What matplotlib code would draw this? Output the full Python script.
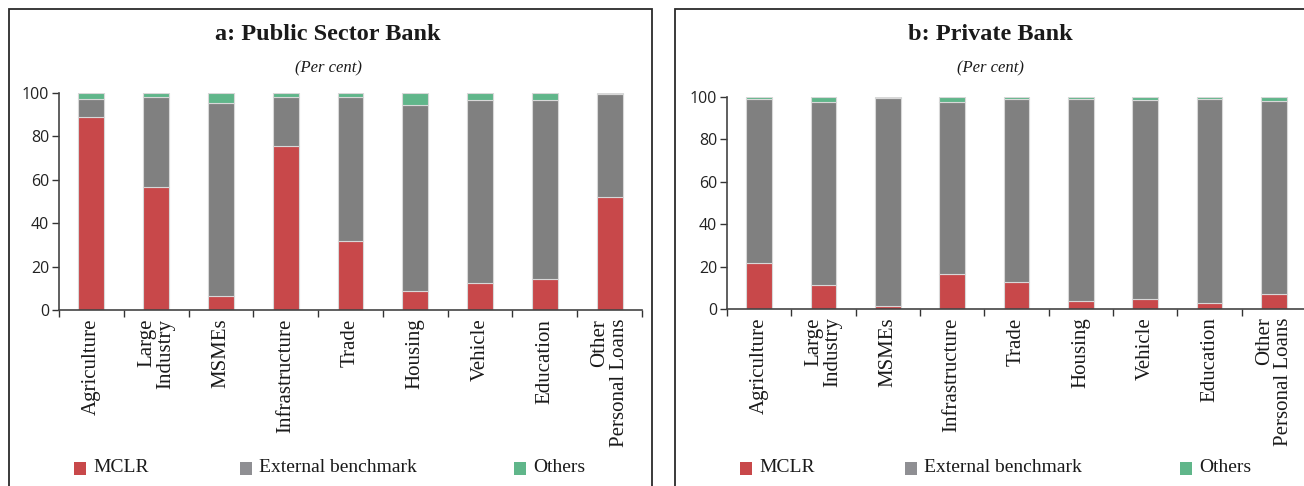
import matplotlib
matplotlib.use("Agg")
import matplotlib.pyplot as plt
from matplotlib.patches import Rectangle

categories = ["Agriculture", "Large\nIndustry", "MSMEs", "Infrastructure", "Trade",
              "Housing", "Vehicle", "Education", "Other\nPersonal Loans"]

# Public sector banks: share of loans by benchmark (per cent)
psb_mclr = [88.8, 56.6, 6.6, 75.5, 31.8, 8.6, 12.3, 14.3, 52.3]
psb_ebl = [8.4, 41.6, 88.6, 22.7, 66.4, 85.9, 84.3, 82.3, 47.1]
psb_others = [2.8, 1.8, 4.8, 1.8, 1.8, 5.5, 3.4, 3.4, 0.6]

# Private banks: share of loans by benchmark (per cent)
pvb_mclr = [21.8, 11.2, 1.4, 16.7, 12.8, 3.6, 4.7, 3.0, 7.3]
pvb_ebl = [77.4, 86.6, 98.0, 80.8, 86.1, 95.6, 94.0, 96.2, 90.6]
pvb_others = [0.8, 2.2, 0.6, 2.5, 1.1, 0.8, 1.3, 0.8, 2.1]

series_names = ["MCLR", "External benchmark", "Others"]
titles = ["a: Public Sector Bank", "b: Private Bank"]
yticks = [0, 20, 40, 60, 80, 100]

RED = "#C8484A"
GREY = "#808080"
GREEN = "#60B68A"
LEG_GREY = "#8F8F93"
EDGE = "#D8D8D8"

SERIF = "Liberation Serif"
SANS = "Open Sans"

W, H = 1304, 486
fig = plt.figure(figsize=(W / 100, H / 100), dpi=100)


def px_axes(x0, x1, y_top, y_bot):
    return [x0 / W, 1 - y_bot / H, (x1 - x0) / W, (y_bot - y_top) / H]


panels = [
    dict(rect=px_axes(59, 642, 93, 310), data=(psb_mclr, psb_ebl, psb_others),
         box=(9, 652), cx=328, legend_x=(74, 240, 514)),
    dict(rect=px_axes(727, 1306, 97, 309), data=(pvb_mclr, pvb_ebl, pvb_others),
         box=(675, 1320), cx=990, legend_x=(740, 905, 1180)),
]

for title, p in zip(titles, panels):
    # panel frame
    bx0, bx1 = p["box"]
    fig.patches.append(Rectangle((bx0 / W, -0.05), (bx1 - bx0) / W, 1 - 9 / H + 0.05,
                                 transform=fig.transFigure, fill=False,
                                 edgecolor="#2b2b2b", linewidth=1.3))
    fig.text(p["cx"] / W, 1 - 35 / H, title, ha="center", va="center",
             fontsize=17.5, fontweight="bold", family=SERIF, color="#1a1a1a")
    fig.text(p["cx"] / W, 1 - 68 / H, "(Per cent)", ha="center", va="center",
             fontsize=12, style="italic", family=SERIF, color="#1a1a1a")

    ax = fig.add_axes(p["rect"])
    mclr, ebl, oth = p["data"]
    x = list(range(len(categories)))
    bottoms2 = [a + b for a, b in zip(mclr, ebl)]
    kw = dict(width=0.4, edgecolor=EDGE, linewidth=0.8)
    ax.bar(x, mclr, color=RED, **kw)
    ax.bar(x, ebl, bottom=mclr, color=GREY, **kw)
    ax.bar(x, oth, bottom=bottoms2, color=GREEN, **kw)

    ax.set_xlim(-0.5, len(categories) - 0.5)
    ax.set_ylim(0, 100)
    ax.set_yticks(yticks)
    ax.set_yticklabels([str(v) for v in yticks], family=SANS, fontsize=11.5, color="#222222")
    ax.set_xticks([i - 0.5 for i in range(len(categories) + 1)])
    ax.set_xticklabels([])
    ax.tick_params(axis="both", direction="out", length=5, width=1, color="#333333")
    ax.tick_params(axis="y", pad=2)
    for s in ("top", "right"):
        ax.spines[s].set_visible(False)
    for s in ("left", "bottom"):
        ax.spines[s].set_color("#444444")
        ax.spines[s].set_linewidth(1.2)

    for i, lab in enumerate(categories):
        ax.text(i, -4.0, lab, rotation=90, ha="center", va="top",
                multialignment="right", fontsize=15, family=SERIF,
                color="#1a1a1a", linespacing=1.0, transform=ax.transData,
                clip_on=False)

    # legend entries
    for lx, name, col in zip(p["legend_x"], series_names, [RED, LEG_GREY, GREEN]):
        fig.patches.append(Rectangle((lx / W, 1 - 475 / H), 12 / W, 13 / H,
                                     transform=fig.transFigure, facecolor=col,
                                     edgecolor="none"))
        fig.text((lx + 19) / W, 1 - 468 / H, name, ha="left", va="center",
                 fontsize=14, family=SERIF, color="#1a1a1a")

fig.savefig("out.png", dpi=100)
